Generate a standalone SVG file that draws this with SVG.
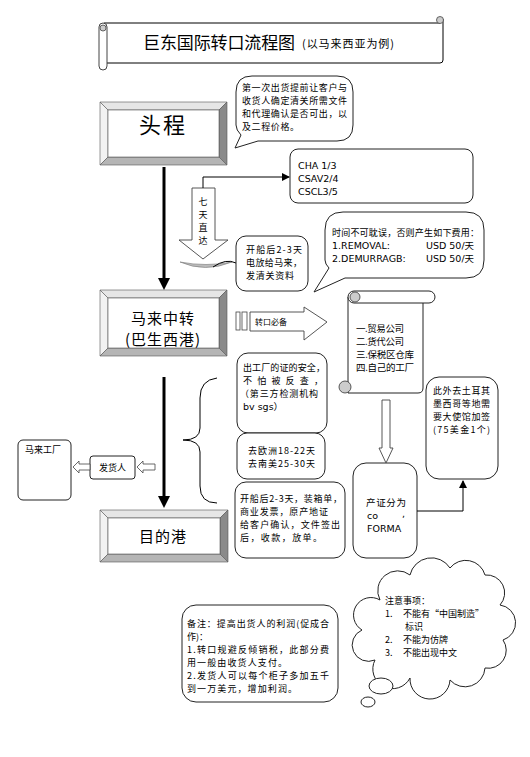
<svg xmlns="http://www.w3.org/2000/svg" width="530" height="757" viewBox="0 0 530 757">
<defs>
<style>
.ln{fill:none;stroke:#000;stroke-width:1}
.bx{fill:#fff;stroke:#222;stroke-width:1}
.t{font-family:"Noto Sans CJK SC","Noto Sans",sans-serif;fill:#000}
.s{font-size:9px}
.l{font-family:"DejaVu Sans","Noto Sans CJK SC",sans-serif;font-size:9.5px;fill:#000}
.bt{fill:#e6e6e6;stroke:#555;stroke-width:0.6}
.bl{fill:#f2f2f2;stroke:#555;stroke-width:0.6}
.br{fill:#8a8a8a;stroke:#555;stroke-width:0.6}
.bb{fill:#b5b5b5;stroke:#555;stroke-width:0.6}
</style>
<marker id="ah" markerWidth="8" markerHeight="8" refX="7" refY="4" orient="auto" markerUnits="userSpaceOnUse">
<path d="M0,0 L8,4 L0,8 Z" fill="#000"/>
</marker>
</defs>
<rect width="530" height="757" fill="#fff"/>

<g id="title">
<path class="ln" d="M104,23 H440 M443,19 V60 Q443,63 440,63 H107" stroke="#444"/>
<rect x="99" y="23" width="8" height="47" rx="4" fill="#fff" stroke="#444"/>
<circle cx="103" cy="28" r="3" fill="#ccc" stroke="#444" stroke-width="0.8"/>
<circle cx="440" cy="20" r="3.5" fill="#ccc" stroke="#444" stroke-width="0.8"/>
<text class="t" x="143" y="49" font-size="17" textLength="152">巨东国际转口流程图</text>
<text class="t" x="302" y="48" font-size="11" textLength="92">(以马来西亚为例)</text>
</g>

<g id="toucheng">
<polygon class="bt" points="100,102 227,102 219,110 108,110"/>
<polygon class="bl" points="100,102 108,110 108,157 100,165"/>
<polygon class="br" points="227,102 227,165 219,157 219,110"/>
<polygon class="bb" points="100,165 227,165 219,157 108,157"/>
<rect x="108" y="110" width="111" height="47" fill="#fff" stroke="#555" stroke-width="0.6"/>
<text class="t" x="163" y="133" font-size="22" text-anchor="middle" letter-spacing="2">头程</text>
</g>

<g id="bubble1">
<path class="bx" d="M252,76 H337 Q353,76 353,92 V125 Q353,141 337,141 H258 L235,148 L241,135 Q236,130 236,125 V92 Q236,76 252,76 Z"/>
<text class="t s" x="242" y="91" textLength="105">第一次出货提前让客户与</text>
<text class="t s" x="242" y="104" textLength="105">收货人确定清关所需文件</text>
<text class="t s" x="242" y="117" textLength="105">和代理确认是否可出，以</text>
<text class="t s" x="242" y="130" textLength="57">及二程价格。</text>
</g>

<g id="carriers">
<rect class="bx" x="290" y="149" width="183" height="54" rx="8"/>
<text class="l" x="298" y="169">CHA 1/3</text>
<text class="l" x="298" y="182">CSAV2/4</text>
<text class="l" x="298" y="195">CSCL3/5</text>
</g>

<g id="direct">
<path d="M192,188 H215 V240 H228 L203,259 L179,240 H192 Z" fill="#fff" stroke="#444" stroke-width="0.9"/>
<text class="t" x="203" y="205" font-size="9" text-anchor="middle">七</text>
<text class="t" x="203" y="218" font-size="9" text-anchor="middle">天</text>
<text class="t" x="203" y="231" font-size="9" text-anchor="middle">直</text>
<text class="t" x="203" y="244" font-size="9" text-anchor="middle">达</text>
<path d="M180,262 Q205,273 232,262 Q206,267 180,262 Z" fill="#bbb" stroke="#777" stroke-width="0.6"/>
<path class="ln" d="M213,267 Q226,258 236,263" stroke-width="0.7"/>
</g>

<g id="bubble-release">
<rect class="bx" x="236" y="236" width="72" height="55" rx="10"/>
<text class="t s" x="246" y="253" textLength="56">开船后2-3天</text>
<text class="t s" x="246" y="266" textLength="56">电放给马来，</text>
<text class="t s" x="246" y="279" textLength="48">发清关资料</text>
</g>

<g id="bubble2">
<path class="bx" d="M343,212 H466 Q484,212 484,230 V260 Q484,278 466,278 H345 L314,292 L329,268 Q325,264 325,260 V230 Q325,212 343,212 Z"/>
<text class="t s" x="332" y="236" textLength="147">时间不可耽误，否则产生如下费用：</text>
<text class="l" x="332" y="249">1.REMOVAL:</text>
<text class="l" x="426" y="249">USD 50/天</text>
<text class="l" x="332" y="262">2.DEMURRAGB:</text>
<text class="l" x="426" y="262">USD 50/天</text>
</g>

<g id="malai">
<polygon class="bt" points="100,290 227,290 219,298 108,298"/>
<polygon class="bl" points="100,290 108,298 108,348 100,356"/>
<polygon class="br" points="227,290 227,356 219,348 219,298"/>
<polygon class="bb" points="100,356 227,356 219,348 108,348"/>
<rect x="108" y="298" width="111" height="50" fill="#fff" stroke="#555" stroke-width="0.6"/>
<text class="t" x="163" y="324" font-size="15" text-anchor="middle" letter-spacing="1">马来中转</text>
<text class="t" x="163" y="345" font-size="15" text-anchor="middle" letter-spacing="1">(巴生西港)</text>
</g>

<g id="transfer-arrow">
<rect x="236" y="312" width="4" height="18" fill="#fff" stroke="#444" stroke-width="0.8"/>
<rect x="242" y="312" width="5" height="18" fill="#fff" stroke="#444" stroke-width="0.8"/>
<path d="M250,312 H304 V307 L327,322 L304,340 V331 H250 Z" fill="#fff" stroke="#444" stroke-width="0.9"/>
<text class="t" x="255" y="325" font-size="8">转口必备</text>
</g>

<g id="scroll">
<path class="bx" d="M348,297 V393 H418 Q423,393 423,388 V303"/>
<rect class="bx" x="348" y="291" width="87" height="12" rx="6"/>
<circle cx="355" cy="297" r="5" fill="#ccc" stroke="#333" stroke-width="0.8"/>
<circle cx="345" cy="387" r="6" fill="#ccc" stroke="#333" stroke-width="0.8"/>
<text class="t" x="356" y="332" font-size="9.5" textLength="48">一.贸易公司</text>
<text class="t" x="356" y="345" font-size="9.5" textLength="48">二.货代公司</text>
<text class="t" x="356" y="358" font-size="9.5" textLength="58">三.保税区仓库</text>
<text class="t" x="356" y="371" font-size="9.5" textLength="58">四.自己的工厂</text>
</g>

<g id="embassy">
<rect class="bx" x="426" y="377" width="72" height="102" rx="13"/>
<text class="t s" x="433" y="394" textLength="57">此外去土耳其</text>
<text class="t s" x="433" y="407" textLength="57">墨西哥等地需</text>
<text class="t s" x="433" y="420" textLength="57">要大使馆加签</text>
<text class="t s" x="433" y="433" textLength="57">(75美金1个)</text>
</g>

<g id="cert">
<rect class="bx" x="353" y="463" width="64" height="95" rx="13"/>
<text class="t" x="366" y="506" font-size="9.5" textLength="40">产证分为</text>
<text class="l" x="367" y="519">co</text>
<text class="l" x="402" y="517">,</text>
<text class="l" x="367" y="532">FORMA</text>
</g>

<g id="safety">
<rect class="bx" x="237" y="353" width="90" height="80" rx="11"/>
<text class="t s" x="243" y="371" textLength="82">出工厂的证的安全，</text>
<text class="t s" x="243" y="384" textLength="80">不怕被反查，</text>
<text class="t s" x="240" y="397" textLength="78">（第三方检测机构</text>
<text class="l" x="243" y="410">bv sgs）</text>
</g>

<g id="transit">
<rect class="bx" x="237" y="433" width="88" height="46" rx="10"/>
<text class="t s" x="248" y="454" textLength="67">去欧洲18-22天</text>
<text class="t s" x="248" y="467" textLength="67">去南美25-30天</text>
</g>

<g id="docs">
<rect class="bx" x="235" y="482" width="110" height="76" rx="11"/>
<text class="t s" x="240" y="502" textLength="102">开船后2-3天，装箱单，</text>
<text class="t s" x="240" y="515" textLength="88">商业发票，原产地证</text>
<text class="t s" x="240" y="528" textLength="100">给客户确认，文件签出</text>
<text class="t s" x="240" y="541" textLength="82">后，收款，放单。</text>
</g>

<g id="brace">
<path class="ln" d="M217,378 Q200,380 200,398 V428 Q200,440 183,440 Q200,440 200,452 V486 Q200,503 217,503" stroke="#333"/>
</g>

<g id="mudi">
<polygon class="bt" points="100,510 228,510 220,518 108,518"/>
<polygon class="bl" points="100,510 108,518 108,554 100,562"/>
<polygon class="br" points="228,510 228,562 220,554 220,518"/>
<polygon class="bb" points="100,562 228,562 220,554 108,554"/>
<rect x="108" y="518" width="112" height="36" fill="#fff" stroke="#555" stroke-width="0.6"/>
<text class="t" x="163" y="542" font-size="15" text-anchor="middle" letter-spacing="1">目的港</text>
</g>

<g id="factory">
<rect class="bx" x="18" y="440" width="53" height="60" rx="5"/>
<text class="t s" x="25" y="453">马来工厂</text>
</g>

<g id="shipper">
<rect class="bx" x="90" y="456" width="45" height="23" rx="3"/>
<text class="t s" x="112.5" y="471" text-anchor="middle">发货人</text>
</g>

<g id="connectors">
<line x1="164" y1="167" x2="164" y2="279" stroke="#000" stroke-width="3"/>
<polygon points="158,278 170,278 164,290" fill="#000"/>
<line x1="164" y1="377" x2="164" y2="497" stroke="#000" stroke-width="3"/>
<polygon points="158,496 170,496 164,508" fill="#000"/>
<path class="ln" d="M203,188 V177 H289" stroke-width="1.5" marker-end="url(#ah)"/>
<path d="M382,400 H390 V448 H393 L386,463 L379,448 H382 Z" fill="#fff" stroke="#444" stroke-width="0.9"/>
<path class="ln" d="M417,511 H463 V481" stroke-width="2" marker-end="url(#ah)"/>
<path d="M90,464 H79 V461 L73,467 L79,473 V470 H90 Z" fill="#fff" stroke="#444" stroke-width="0.8"/>
<path d="M155,464 H143 V461 L137,467 L143,473 V470 H155 Z" fill="#fff" stroke="#444" stroke-width="0.8"/>
</g>

<g id="note">
<rect class="bx" x="182" y="605" width="156" height="97" rx="14"/>
<text class="t s" x="187" y="627" textLength="142">备注：提高出货人的利润(促成合</text>
<text class="t s" x="187" y="640">作)：</text>
<text class="t s" x="187" y="653" textLength="142">1.转口规避反倾销税，此部分费</text>
<text class="t s" x="187" y="666" textLength="100">用一般由收货人支付。</text>
<text class="t s" x="187" y="679" textLength="142">2.发货人可以每个柜子多加五千</text>
<text class="t s" x="187" y="692" textLength="110">到一万美元，增加利润。</text>
</g>

<g id="cloud">
<path class="bx" d="M380,600 A20,20 0 0 1 410,575 A22,22 0 0 1 450,568 A20,20 0 0 1 485,575 A18,18 0 0 1 500,605 A18,18 0 0 1 503,640 A18,18 0 0 1 485,668 A20,20 0 0 1 450,680 A20,20 0 0 1 410,678 A18,18 0 0 1 375,660 A16,16 0 0 1 362,630 A16,16 0 0 1 380,600 Z"/>
<ellipse class="bx" cx="381" cy="686" rx="12" ry="8"/>
<ellipse class="bx" cx="368" cy="702" rx="7" ry="5"/>
<text class="t s" x="385" y="604">注意事项：</text>
<text class="t s" x="385" y="617">1.</text>
<text class="t s" x="403" y="617">不能有“中国制造”</text>
<text class="t s" x="405" y="630">标识</text>
<text class="t s" x="385" y="643">2.</text>
<text class="t s" x="403" y="643">不能为仿牌</text>
<text class="t s" x="385" y="656">3.</text>
<text class="t s" x="403" y="656">不能出现中文</text>
</g>
</svg>
